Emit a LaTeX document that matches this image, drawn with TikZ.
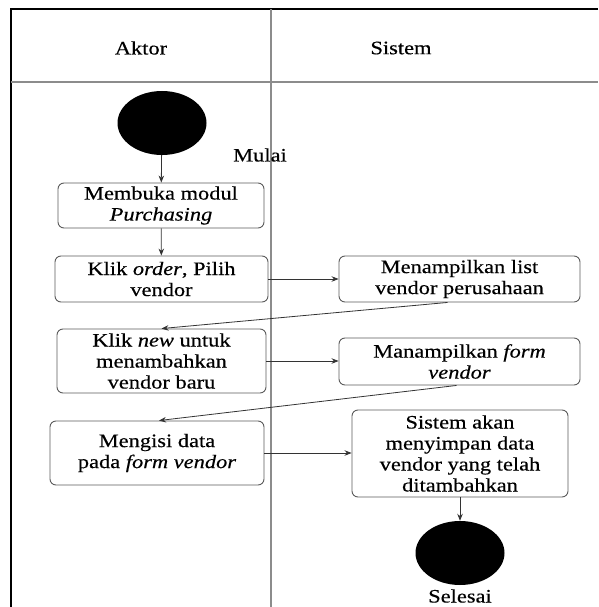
\documentclass[tikz,border=0pt]{standalone}
\usepackage{fontspec}
\setmainfont{Liberation Serif}[FakeStretch=1.18,FakeBold=0.4,
  ItalicFont={Liberation Serif Italic}]
\usetikzlibrary{arrows.meta,shapes.geometric}
\definecolor{framegray}{HTML}{8C8C8C}
\definecolor{boxgray}{HTML}{5A5A5A}
\definecolor{flowgray}{HTML}{333333}
\begin{document}
\begin{tikzpicture}[x=1pt,y=-1pt,
  every node/.style={font=\fontsize{19}{21}\selectfont, text=black},
  act/.style={draw=boxgray, line width=0.9pt, rounded corners=6pt, align=center,
    inner sep=0pt, minimum width=#1},
  terminal/.style={fill=black, ellipse, draw=none, minimum width=89pt, minimum height=64pt, inner sep=0pt},
  flow/.style={draw=flowgray, line width=0.8pt, -{Stealth[length=7pt,width=5.5pt]}},
  lane/.style={draw=framegray, line width=1.6pt}
]
\useasboundingbox (0,0) rectangle (598,607);

% swimlane frame
\draw[line width=2pt, black] (598,9.5) -- (11,9.5) -- (11,607);
\draw[lane] (11,82) -- (598,82);
\draw[lane] (271,9.5) -- (271,607);
\node (laneA) at (141,48) {Aktor};
\node (laneS) at (401,48) {Sistem};

% start and end states
\node[terminal] (start) at (162,123) {};
\node (mulai) at (260,155) {Mulai};
\node[terminal] (stop) at (460,553) {};
\node (selesai) at (460,596) {Selesai};

% actor activities
\node[act=206pt, minimum height=45pt] (a1) at (161,205.5) {Membuka modul\\\textit{Purchasing}};
\node[act=213pt, minimum height=46pt] (a2) at (161.5,279) {Klik \textit{order}, Pilih\\vendor};
\node[act=209pt, minimum height=64pt] (a3) at (161.5,361) {Klik \textit{new} untuk\\menambahkan\\vendor baru};
\node[act=214pt, minimum height=64pt] (a4) at (157,453) {Mengisi data\\pada \textit{form vendor}};

% system activities
\node[act=241pt, minimum height=46pt] (s1) at (459.5,279) {Menampilkan list\\vendor perusahaan};
\node[act=241pt, minimum height=47pt] (s2) at (459.5,361.5) {Manampilkan \textit{form}\\\textit{vendor}};
\node[act=216pt, minimum height=87pt] (s3) at (460,453.5) {Sistem akan\\menyimpan data\\vendor yang telah\\ditambahkan};

% control flow
\draw[flow] (start) -- (a1);
\draw[flow] (a1) -- (a2);
\draw[flow] (a2) -- (s1);
\draw[flow] ([xshift=-12pt]s1.south) -- (a3.north);
\draw[flow] (a3) -- (a3 -| s2.west);
\draw[flow] ([xshift=-3pt]s2.south) -- ([xshift=2pt]a4.north);
\draw[flow] (a4) -- (a4 -| s3.west);
\draw[flow] (s3) -- (stop);
\end{tikzpicture}
\end{document}
